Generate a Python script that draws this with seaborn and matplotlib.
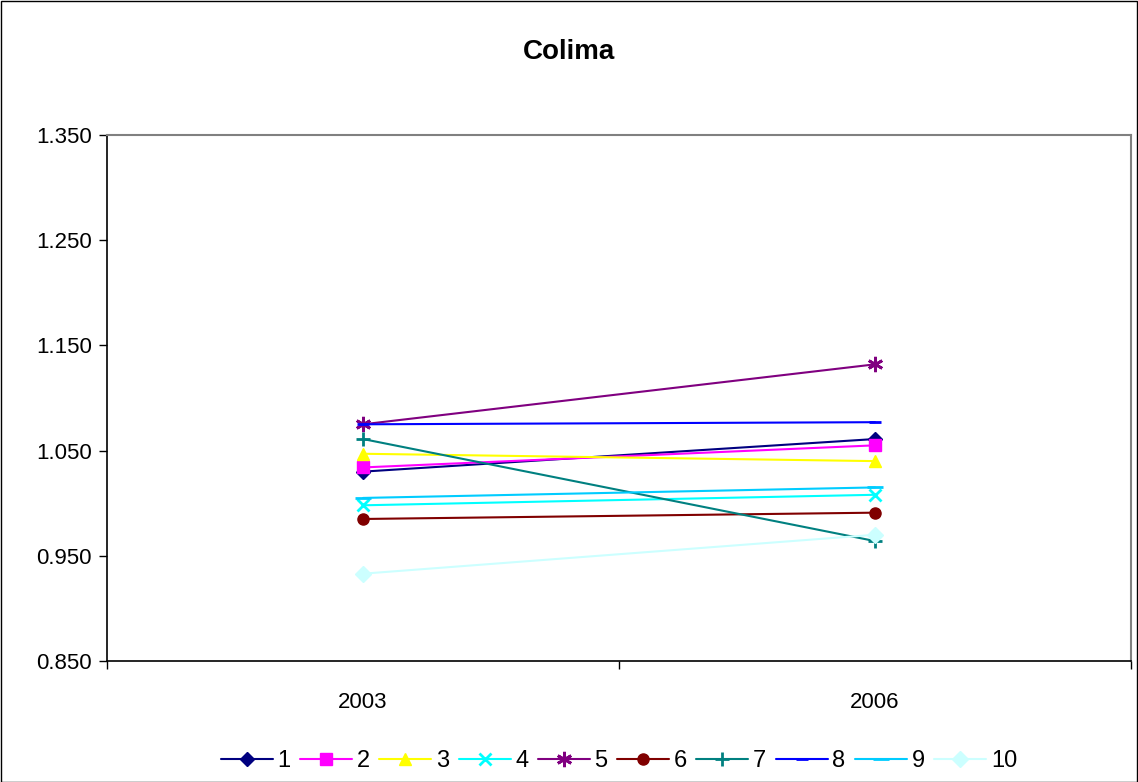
import matplotlib
matplotlib.use("Agg")
import matplotlib.pyplot as plt
import seaborn as sns
import pandas as pd
import numpy as np

# data
years = ["2003", "2006"]
series = ["1", "2", "3", "4", "5", "6", "7", "8", "9", "10"]
v2003 = [1.030, 1.034, 1.047, 0.998, 1.075, 0.985, 1.061, 1.075, 1.005, 0.933]
v2006 = [1.061, 1.055, 1.040, 1.008, 1.132, 0.991, 0.964, 1.077, 1.015, 0.970]

colors = ["#000080", "#FF00FF", "#FFFF00", "#00FFFF", "#800080",
          "#800000", "#008080", "#0000FF", "#00CCFF", "#CCFFFF"]
markers = ["D", "s", "^", "x", (6, 2, 0), "o", "+", "_", "_", "D"]
msizes = [7, 8, 9, 9, 11, 8, 10, 8, 12, 8]

sns.set_style("white")
plt.rcParams['font.family'] = ['Liberation Sans', 'DejaVu Sans']
plt.rcParams['text.color'] = 'black'
plt.rcParams['xtick.color'] = 'black'
plt.rcParams['ytick.color'] = 'black'

rows = []
for i, s in enumerate(series):
    for j, yr in enumerate(years):
        rows.append({"series": s, "pos": j + 0.5, "val": [v2003, v2006][j][i]})
df = pd.DataFrame(rows)

fig = plt.figure(figsize=(11.38, 7.82), dpi=100)
ax = fig.add_axes([107 / 1138, 1 - 661 / 782, (1131 - 107) / 1138, (661 - 135) / 782])

for i, s in enumerate(series):
    sub = df[df["series"] == s]
    thin = markers[i] in ["x", "+", "_"] or isinstance(markers[i], tuple)
    sns.lineplot(data=sub, x="pos", y="val", ax=ax, color=colors[i], marker=markers[i],
                 markersize=msizes[i], markeredgecolor=colors[i], markeredgewidth=2 if thin else 1,
                 linewidth=1.5, label=s)

yt = np.arange(0.85, 1.36, 0.1)
ax.set_xlim(0, 2)
ax.set_ylim(0.85, 1.35)
ax.set_yticks(yt)
ax.set_yticklabels(["%.3f" % t for t in yt], fontsize=16)
ax.set_xticks([0, 1, 2])
ax.set_xticklabels([])
ax.set_xticks([0.5, 1.5], minor=True)
ax.set_xticklabels(years, minor=True, fontsize=16)
ax.tick_params(axis="x", which="minor", length=0, pad=22)
ax.tick_params(axis="both", which="major", direction="out", length=6, width=1, color="black",
               left=True, bottom=True)
ax.tick_params(axis="y", pad=5)
ax.set_xlabel("")
ax.set_ylabel("")

for side in ["left", "bottom"]:
    ax.spines[side].set_color("black")
    ax.spines[side].set_linewidth(1.2)
for side in ["top", "right"]:
    ax.spines[side].set_color("#808080")
    ax.spines[side].set_linewidth(1.5)

fig.suptitle("Colima", fontsize=20, fontweight="bold", y=1 - 52 / 782, va="center")

ax.legend(loc="center", bbox_to_anchor=(0.5 - 0.0, (661 - 761) / (661 - 135)), ncol=10,
          frameon=False, fontsize=17, handlelength=2.2, columnspacing=0.4, handletextpad=0.2,
          markerscale=1.0)

fig.patches.append(plt.Rectangle((0.5 / 1138, 0.5 / 782), 1 - 1.5 / 1138, 1 - 1.5 / 782,
                                 transform=fig.transFigure, fill=False, edgecolor="black", linewidth=1))

fig.savefig("out.png", dpi=100)
